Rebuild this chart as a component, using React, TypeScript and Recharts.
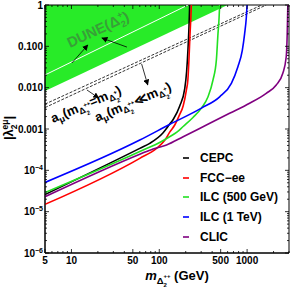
import React from 'react'
import { ComposedChart, Line, Area, XAxis, YAxis, ReferenceArea, Legend } from 'recharts'

const FONT = '"Liberation Sans", Arial, sans-serif'

// frame of the plot, in px of the 294 x 288 chart
const PL = 45
const PR = 289
const PT = 5
const PB = 253
const M_MIN = 5
const M_MAX = 3000
const L_MIN = 1e-6
const L_MAX = 1

// ticks
const xMajor = [5, 10, 50, 100, 500, 1000]
const xMinor = [6, 7, 8, 9, 20, 30, 40, 60, 70, 80, 90, 200, 300, 400, 600, 700, 800, 900, 2000, 3000]
const yMajor = [1e-6, 1e-5, 1e-4, 1e-3, 1e-2, 1e-1, 1]
const yMajorLabels = ['10^-6', '10^-5', '10^-4', '0.001', '0.010', '0.100', '1']
const yMinor = yMajor.slice(0, -1).flatMap(d => [2, 3, 4, 5, 6, 7, 8, 9].map(k => k * d))

// collider curves
const cepcM = [5, 60, 78, 110, 131, 144, 171, 195, 205, 212, 218, 222]
const cepcL = [2.6e-5, 3.4e-4, 4.5e-4, 8e-4, 1.3e-3, 1.7e-3, 3.6e-3, 9.5e-3, 0.025, 0.08, 0.3, 1]

const fccM = [5, 60, 93, 116, 132, 150, 170, 187, 204, 212, 218, 224, 229, 232]
const fccL = [1.5e-5, 1.95e-4, 3.4e-4, 5.4e-4, 8.5e-4, 1.25e-3, 2.2e-3, 3.6e-3, 9e-3, 0.016, 0.05, 0.2, 0.5, 1]

const ilc500M = [5, 60, 106, 131, 160, 187, 242, 302, 359, 409, 447, 466, 480, 487]
const ilc500L = [2.9e-5, 2.85e-4, 5e-4, 6.5e-4, 8.5e-4, 1.15e-3, 1.9e-3, 3.2e-3, 6e-3, 0.0153, 0.047, 0.2, 0.5, 1]

const ilc1M = [5, 60, 132, 302, 487, 662, 786, 882, 937, 980, 1000]
const ilc1L = [5.1e-5, 5.4e-4, 1.3e-3, 3.2e-3, 6e-3, 0.0127, 0.032, 0.08, 0.2, 0.5, 1]

const clicM = [5, 60, 85, 121, 187, 344, 632, 1068, 1651, 2148, 2551, 2790, 2865, 2910]
const clicL = [2.3e-5, 2.45e-4, 3.3e-4, 4.1e-4, 6.5e-4, 1.25e-3, 2.4e-3, 4.2e-3, 7.3e-3, 0.0116, 0.0223, 0.056, 0.21, 1]

// DUNE excluded band and its inner white line
const duneM = [5, 600]
const duneLow = [0.0083, 1]
const duneLineM = [5, 212]
const duneLineL = [0.0203, 1]

// muon g-2 lines
const amuEqM = [5, 1650]
const amuEqL = [3.3e-3, 1]
const amuLlM = [5, 1470]
const amuLlL = [4.0e-3, 1]

const pts = (ms: number[], ls: number[]) => ms.map((m, i) => ({ m, y: ls[i] }))

const series = [
  { name: 'CEPC', color: '#000000', data: pts(cepcM, cepcL) },
  { name: 'FCC\u2212ee', color: '#ff0000', data: pts(fccM, fccL) },
  { name: 'ILC (500 GeV)', color: '#22e022', data: pts(ilc500M, ilc500L) },
  { name: 'ILC (1 TeV)', color: '#0000ff', data: pts(ilc1M, ilc1L) },
  { name: 'CLIC', color: '#800080', data: pts(clicM, clicL) },
]

// annotation arrows, in data coords [m1, l1, m2, l2], head at the second point
const arrows = [
  [10.1, 0.0395, 15.4, 0.108],
  [42.8, 0.096, 22.2, 0.159],
  [15, 8.8e-3, 20.5, 5.6e-3],
  [63, 0.0373, 74, 0.0116],
]

const toX = (m: number) => PL + ((PR - PL) * Math.log(m / M_MIN)) / Math.log(M_MAX / M_MIN)
const toY = (l: number) => PT + ((PB - PT) * Math.log(L_MAX / l)) / Math.log(L_MAX / L_MIN)

const isMajor = (list: number[], v: number) => list.findIndex(t => Math.abs(t - v) / t < 1e-6)

function XTick({ x, payload }: any) {
  const i = isMajor(xMajor, payload.value)
  const len = i >= 0 ? 4 : 2
  return (
    <g>
      <line x1={x} y1={PB} x2={x} y2={PB - len} stroke="#000" strokeWidth={0.8} />
      <line x1={x} y1={PT} x2={x} y2={PT + len} stroke="#000" strokeWidth={0.8} />
      {i >= 0 && (
        <text x={x} y={PB + 11} textAnchor="middle" fontSize={10} fontWeight="bold" fontFamily={FONT}>
          {xMajor[i]}
        </text>
      )}
    </g>
  )
}

function YTick({ y, payload }: any) {
  const i = isMajor(yMajor, payload.value)
  const len = i >= 0 ? 4 : 2
  const lab = i >= 0 ? yMajorLabels[i] : ''
  return (
    <g>
      <line x1={PL} y1={y} x2={PL + len} y2={y} stroke="#000" strokeWidth={0.8} />
      <line x1={PR} y1={y} x2={PR - len} y2={y} stroke="#000" strokeWidth={0.8} />
      {i >= 0 && (
        <text x={PL - 2} y={y + 3.5} textAnchor="end" fontSize={10} fontWeight="bold" fontFamily={FONT}>
          {lab.includes('^') ? (
            <>
              {lab.split('^')[0]}
              <tspan fontSize={7} dy={-4}>{lab.split('^')[1].replace('-', '\u2212')}</tspan>
            </>
          ) : lab}
        </text>
      )}
    </g>
  )
}

type Seg = { t: string; s?: number; b?: number; dx?: number; i?: boolean }

function Rich({ segs, size }: { segs: Seg[]; size: number }) {
  let prev = 0
  return (
    <>
      {segs.map((g, k) => {
        const b = g.b ?? 0
        const dy = b - prev
        prev = b
        return (
          <tspan key={k} dy={dy} dx={g.dx} fontSize={g.s ?? size} fontStyle={g.i ? 'italic' : undefined}>
            {g.t}
          </tspan>
        )
      })}
    </>
  )
}

const amuSegs = (rel: string): Seg[] => [
  { t: 'a' },
  { t: '\u03bc', s: 9, b: 3 },
  { t: '(' },
  { t: 'm' },
  { t: '\u0394', s: 9, b: 3 },
  { t: '2', s: 6, b: 6.5 },
  { t: '++', s: 6, b: -2, dx: -3.5 },
  { t: rel },
  { t: 'm' },
  { t: '\u0394', s: 9, b: 3 },
  { t: '2', s: 6, b: 6.5 },
  { t: '+', s: 6, b: -2, dx: -3.5 },
  { t: ')' },
]

function Overlay() {
  return (
    <svg width={294} height={288} style={{ position: 'absolute', left: 0, top: 0, pointerEvents: 'none' }}>
      <defs>
        <marker id="ah" markerWidth={6} markerHeight={6} refX={5.5} refY={3} orient="auto" markerUnits="userSpaceOnUse">
          <path d="M0,0 L6,3 L0,6 z" fill="#000" />
        </marker>
      </defs>
      {arrows.map((a, k) => (
        <line key={k} x1={toX(a[0])} y1={toY(a[1])} x2={toX(a[2])} y2={toY(a[3])} stroke="#000" strokeWidth={0.8} markerEnd="url(#ah)" />
      ))}
      <g transform={`translate(${toX(9.6)},${toY(0.091)}) rotate(-25)`}>
        <text fontSize={14.5} fontWeight="bold" fontFamily={FONT} fill="#38a038">
          <Rich size={14.5} segs={[{ t: 'DUNE(\u0394' }, { t: '2', s: 9, b: 4 }, { t: '+', s: 9, b: -6, dx: -5 }, { t: ')' }]} />
        </text>
      </g>
      <g transform={`translate(${toX(6.16)},${toY(1.39e-3)}) rotate(-23)`}>
        <text fontSize={13} fontWeight="bold" fontFamily={FONT}>
          <Rich size={13} segs={amuSegs('=')} />
        </text>
      </g>
      <g transform={`translate(${toX(19.5)},${toY(1.47e-3)}) rotate(-23)`}>
        <text fontSize={13} fontWeight="bold" fontFamily={FONT}>
          <Rich size={13} segs={amuSegs('\u226a')} />
        </text>
      </g>
      <g transform="translate(13,128) rotate(-90)">
        <text textAnchor="middle" fontSize={13} fontWeight="bold" fontFamily={FONT}>
          <Rich size={13} segs={[{ t: '|\u03bb' }, { t: '2', s: 8.5, b: 4 }, { t: 'e\u03bc', s: 8.5, b: -5, dx: -5 }, { t: '|' }]} />
        </text>
      </g>
      <text x={177} y={280} textAnchor="middle" fontSize={13} fontWeight="bold" fontFamily={FONT}>
        <Rich
          size={13}
          segs={[
            { t: 'm', i: true },
            { t: '\u0394', s: 9.5, b: 3.5 },
            { t: '2', s: 6, b: 7 },
            { t: '++', s: 6, b: -2, dx: -3.5 },
            { t: ' (GeV)' },
          ]}
        />
      </text>
    </svg>
  )
}

function LegendBox() {
  return (
    <div style={{ fontFamily: FONT, fontWeight: 'bold', fontSize: 12 }}>
      {series.map(s => (
        <div key={s.name} style={{ display: 'flex', alignItems: 'center', height: 19.75 }}>
          <svg width={20} height={4} style={{ display: 'block' }}>
            <line x1={3} y1={2} x2={9} y2={2} stroke={s.color} strokeWidth={1.6} />
          </svg>
          <span>{s.name}</span>
        </div>
      ))}
    </div>
  )
}

export default function App() {
  return (
    <div style={{ position: 'absolute', left: 0, top: 0, width: 294, height: 288, background: '#fff' }}>
      <ComposedChart width={294} height={288} margin={{ top: 5, right: 5, bottom: 0, left: 0 }}>
        <XAxis
          dataKey="m"
          type="number"
          scale="log"
          domain={[M_MIN, M_MAX]}
          allowDataOverflow
          ticks={[...xMajor, ...xMinor].sort((a, b) => a - b)}
          interval={0}
          height={35}
          tickSize={0}
          tickMargin={0}
          tickLine={false}
          axisLine={{ stroke: '#000' }}
          tick={<XTick />}
        />
        <YAxis
          type="number"
          scale="log"
          domain={[L_MIN, L_MAX]}
          allowDataOverflow
          ticks={[...yMajor, ...yMinor].sort((a, b) => a - b)}
          interval={0}
          width={45}
          tickSize={0}
          tickMargin={0}
          tickLine={false}
          axisLine={{ stroke: '#000' }}
          tick={<YTick />}
        />
        <Area
          data={duneM.map((m, i) => ({ m, band: [duneLow[i], 1] }))}
          dataKey="band"
          type="linear"
          fill="#28eb28"
          fillOpacity={1}
          stroke="none"
          legendType="none"
          isAnimationActive={false}
        />
        <Line data={pts(duneLineM, duneLineL)} dataKey="y" stroke="#fff" strokeWidth={1} dot={false} legendType="none" isAnimationActive={false} />
        <Line data={pts(amuEqM, amuEqL)} dataKey="y" stroke="#000" strokeWidth={0.8} strokeDasharray="3 1.5" dot={false} legendType="none" isAnimationActive={false} />
        <Line data={pts(amuLlM, amuLlL)} dataKey="y" stroke="#000" strokeWidth={0.8} strokeDasharray="3 1.5" dot={false} legendType="none" isAnimationActive={false} />
        {series.map(s => (
          <Line
            key={s.name}
            name={s.name}
            data={s.data}
            dataKey="y"
            type="monotone"
            stroke={s.color}
            strokeWidth={1.6}
            dot={false}
            isAnimationActive={false}
          />
        ))}
        <ReferenceArea x1={M_MIN} x2={M_MAX} y1={L_MIN} y2={L_MAX} fill="none" stroke="#000" strokeWidth={1} />
        <Legend
          layout="vertical"
          align="center"
          verticalAlign="middle"
          wrapperStyle={{ position: 'absolute', left: 180, top: 148, width: 110 }}
          content={<LegendBox />}
        />
      </ComposedChart>
      <Overlay />
    </div>
  )
}
